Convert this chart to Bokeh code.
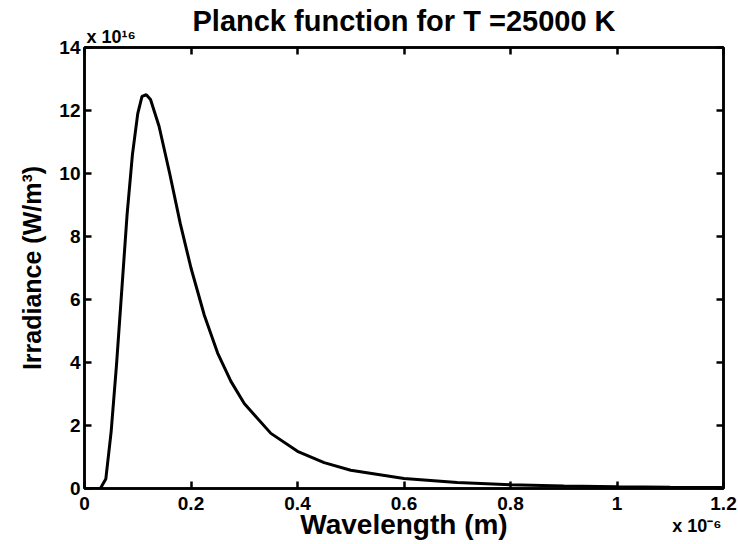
from bokeh.plotting import figure
from bokeh.models import Range1d, LinearAxis, Title, FixedTicker
from bokeh.embed import file_html
from bokeh.resources import INLINE

# Wavelength in units of 1e-6 m, irradiance in units of 1e16 W/m^3
wavelength = [0.0, 0.02, 0.03, 0.04, 0.05, 0.06, 0.07, 0.08, 0.09, 0.10, 0.108,
              0.116, 0.124, 0.14, 0.16, 0.18, 0.20, 0.225, 0.25, 0.275, 0.30,
              0.35, 0.40, 0.45, 0.50, 0.60, 0.70, 0.80, 0.90, 1.00, 1.10, 1.20]
irradiance = [0.0, 0.0, 0.01, 0.3, 1.8, 3.9, 6.3, 8.7, 10.6, 11.9, 12.45,
              12.5, 12.35, 11.5, 10.0, 8.4, 7.0, 5.5, 4.3, 3.4, 2.7,
              1.75, 1.18, 0.82, 0.58, 0.32, 0.19, 0.12, 0.08, 0.055, 0.04, 0.03]

x_ticks = [0, 0.2, 0.4, 0.6, 0.8, 1.0, 1.2]
x_tick_labels = {0: "0", 0.2: "0.2", 0.4: "0.4", 0.6: "0.6", 0.8: "0.8", 1.0: "1", 1.2: "1.2"}
y_ticks = [0, 2, 4, 6, 8, 10, 12, 14]

title_text = "Planck function for T =25000 K"
x_label = "Wavelength (m)"
y_label = "Irradiance (W/m³)"
y_exponent = "x 10¹⁶"
x_exponent = "x 10⁻⁶"
x_exponent_pos = 1.15   # where the x exponent sits along the axis

FONT = "Liberation Sans"

p = figure(frame_width=639, frame_height=441,
           min_border_left=84, min_border_right=15, min_border_top=47, min_border_bottom=56,
           x_range=Range1d(0, 1.2), y_range=Range1d(0, 14),
           output_backend="svg", toolbar_location=None)
p.background_fill_color = "white"
p.border_fill_color = "white"
p.xgrid.visible = False
p.ygrid.visible = False
p.outline_line_color = "black"
p.outline_line_width = 2.5

def style_axis(ax, show_labels=True):
    ax.axis_line_width = 2.5
    ax.axis_line_color = "black"
    ax.major_tick_in = 7
    ax.major_tick_out = 0
    ax.major_tick_line_width = 2.5
    ax.major_tick_line_color = "black"
    ax.minor_tick_line_color = None
    ax.major_label_text_font = FONT
    ax.major_label_text_font_style = "bold"
    ax.major_label_text_color = "black"
    ax.major_label_text_font_size = "19px"
    if not show_labels:
        ax.major_label_overrides = {t: "" for t in ax.ticker.ticks}
        ax.major_label_standoff = 0

xa = p.xaxis[0]
xa.ticker = FixedTicker(ticks=x_ticks)
xa.major_label_overrides = x_tick_labels
style_axis(xa)
xa.major_label_standoff = 8

ya = p.yaxis[0]
ya.ticker = FixedTicker(ticks=y_ticks)
style_axis(ya)
ya.major_label_standoff = 4
ya.axis_label = y_label
ya.axis_label_text_font = FONT
ya.axis_label_text_font_size = "25px"
ya.axis_label_text_font_style = "bold"
ya.axis_label_text_color = "black"
ya.axis_label_standoff = 10

top = LinearAxis(ticker=FixedTicker(ticks=x_ticks))
style_axis(top, show_labels=False)
p.add_layout(top, "above")
right = LinearAxis(ticker=FixedTicker(ticks=y_ticks))
style_axis(right, show_labels=False)
p.add_layout(right, "right")

# second bottom axis: carries the x exponent and the x axis title on one line
xb = LinearAxis(ticker=FixedTicker(ticks=[x_exponent_pos]),
                major_label_overrides={x_exponent_pos: x_exponent})
xb.axis_line_color = None
xb.major_tick_line_color = None
xb.minor_tick_line_color = None
xb.major_label_text_font = FONT
xb.major_label_text_font_style = "bold"
xb.major_label_text_font_size = "18px"
xb.major_label_text_color = "black"
xb.major_label_standoff = -3
xb.axis_label = x_label
xb.axis_label_text_font = FONT
xb.axis_label_text_font_size = "28px"
xb.axis_label_text_font_style = "bold"
xb.axis_label_text_color = "black"
xb.axis_label_standoff = -30
p.add_layout(xb, "below")

# exponent of the y axis, just above the top-left corner
p.add_layout(Title(text=y_exponent, align="left", offset=2, standoff=2,
                   text_font=FONT, text_font_style="bold", text_font_size="18px",
                   text_color="black"), "above")
# main title
p.add_layout(Title(text=title_text, align="center", standoff=-26,
                   text_font=FONT, text_font_style="bold", text_font_size="29px",
                   text_color="black"), "above")

p.line(wavelength, irradiance, line_color="black", line_width=3)

open("out.html", "w").write(file_html(p, INLINE))
